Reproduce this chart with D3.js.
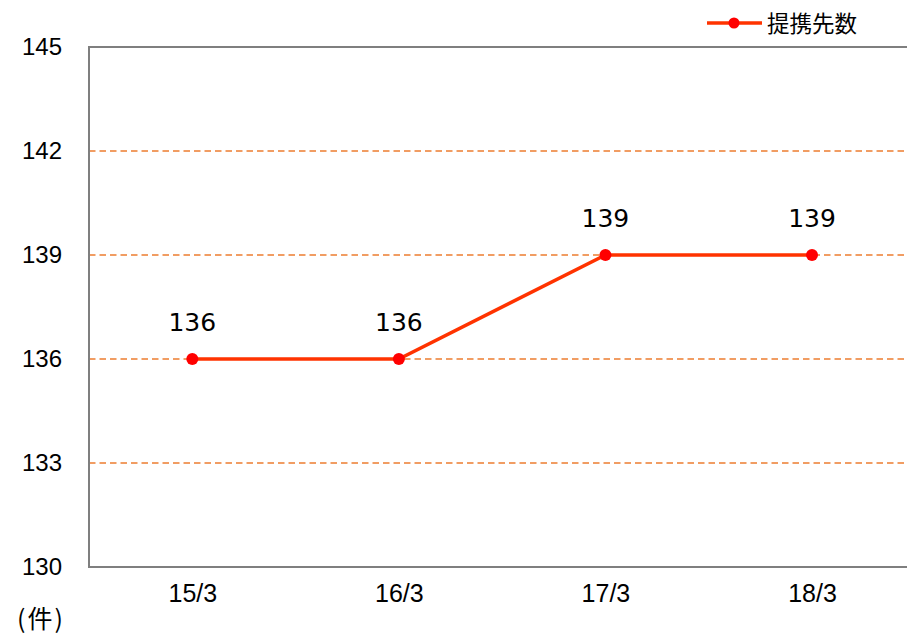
<!DOCTYPE html>
<html><head><meta charset="utf-8">
<script src="https://cdn.jsdelivr.net/npm/d3@7"></script>
<style>body{margin:0;background:#fff;}svg{display:block;}</style>
</head><body>
<script>
const categories = ["15/3","16/3","17/3","18/3"];
const values = [136,136,139,139];
const yTicks = [130,133,136,139,142,145];
const seriesName = "提携先数";
const unitLabel = "(件)";

const W = 907, H = 634;
const svg = d3.select("body").append("svg").attr("width",W).attr("height",H);
const plotLeft = 89, plotTop = 47, plotBottom = 567;
const x = d3.scalePoint().domain(categories).range([192.3, 812]);
const y = d3.scaleLinear().domain([130,145]).range([plotBottom, plotTop]);

// grid
svg.append("g").selectAll("line").data(yTicks.filter(t=>t>130 && t<145)).join("line")
  .attr("x1", plotLeft).attr("x2", W).attr("y1", d=>y(d)).attr("y2", d=>y(d))
  .attr("stroke","#ED7D31").attr("stroke-width",1.4).attr("stroke-dasharray","6.5,4");

// frame
const axisColor = "#7f7f7f";
svg.append("line").attr("x1",plotLeft).attr("x2",W).attr("y1",plotTop).attr("y2",plotTop).attr("stroke",axisColor).attr("stroke-width",2);
svg.append("line").attr("x1",plotLeft).attr("x2",W).attr("y1",plotBottom).attr("y2",plotBottom).attr("stroke",axisColor).attr("stroke-width",2);
svg.append("line").attr("x1",plotLeft).attr("x2",plotLeft).attr("y1",plotTop-1).attr("y2",plotBottom+1).attr("stroke",axisColor).attr("stroke-width",2);

// y axis labels
const yAxis = d3.axisLeft(y).tickValues(yTicks).tickSize(0).tickPadding(0);
const ya = svg.append("g").attr("transform",`translate(62,0)`).call(yAxis);
ya.select(".domain").remove();
ya.selectAll("text").attr("font-family","Liberation Sans, Arial, sans-serif").attr("font-size",24).attr("fill","#000");

// x axis labels
const xAxis = d3.axisBottom(x).tickSize(0).tickPadding(0);
const xa = svg.append("g").attr("transform",`translate(0,${plotBottom+17})`).call(xAxis);
xa.select(".domain").remove();
xa.selectAll("text").attr("font-family","Liberation Sans, Arial, sans-serif").attr("font-size",25).attr("fill","#000");

// line
const lineColor = "#FF3300", markerColor = "#FF0000";
svg.append("path").datum(values.map((v,i)=>[categories[i],v]))
  .attr("d", d3.line().x(d=>x(d[0])).y(d=>y(d[1])))
  .attr("fill","none").attr("stroke",lineColor).attr("stroke-width",3.5);
svg.append("g").selectAll("circle").data(values).join("circle")
  .attr("cx",(d,i)=>x(categories[i])).attr("cy",d=>y(d)).attr("r",6).attr("fill",markerColor);

// data labels
svg.append("g").selectAll("text").data(values).join("text")
  .attr("x",(d,i)=>x(categories[i])).attr("y",d=>y(d)-28.5)
  .attr("text-anchor","middle").attr("font-family","DejaVu Sans, Verdana, sans-serif")
  .attr("font-size",25).attr("fill","#000").text(d=>d);

// legend
svg.append("line").attr("x1",707).attr("x2",762).attr("y1",23).attr("y2",23).attr("stroke",lineColor).attr("stroke-width",3.5);
svg.append("circle").attr("cx",734).attr("cy",23).attr("r",5.5).attr("fill",markerColor);
svg.append("text").attr("x",767).attr("y",32).attr("font-family","Noto Sans CJK JP, sans-serif")
  .attr("font-size",22.5).attr("fill","#000").text(seriesName);

// unit label
svg.append("text").attr("x",17).attr("y",628).attr("font-family","Noto Sans CJK JP, sans-serif")
  .attr("font-size",25).attr("letter-spacing",2).attr("fill","#000").text(unitLabel);
</script>
</body></html>
